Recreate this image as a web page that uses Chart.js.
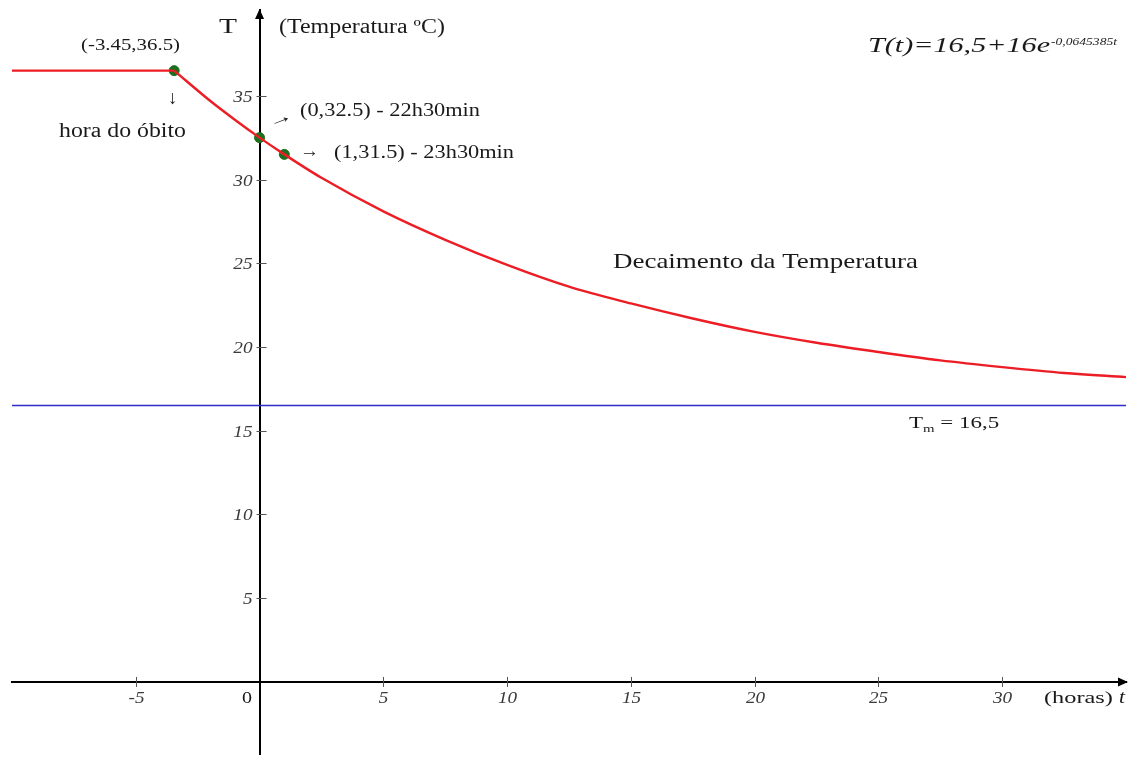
<!DOCTYPE html>
<html>
<head>
<meta charset="utf-8">
<title>Decaimento da Temperatura</title>
<script src="https://cdn.jsdelivr.net/npm/chart.js@4.4.1/dist/chart.umd.min.js"></script>
<style>
  html, body { margin: 0; padding: 0; background: #fff; }
  #wrap { width: 1132px; height: 760px; }
</style>
</head>
<body>
<div id="wrap"><canvas id="chart" width="1132" height="760"></canvas></div>
<script>
// --- data ---
var flatTimes = [-10, -3.45];          // horas
var flatTemps = [36.5, 36.5];          // before death
var curveTimes = [-3.45, -2, -1, 0, 1, 2.5, 5, 7.5, 10, 12.5, 15, 17.5, 20, 22.5, 25, 27.5, 30, 32.5, 35];
var curveTemps = [36.5, 34.7, 33.57, 32.5, 31.5, 30.1, 28.1, 26.4, 24.9, 23.6, 22.6, 21.7, 20.9, 20.25, 19.7, 19.2, 18.8, 18.45, 18.2];
var ambientTimes = [-10, 35];
var ambientTemps = [16.5, 16.5];
var markTimes = [-3.45, 0, 1];
var markTemps = [36.5, 32.5, 31.5];
var xTickLabels = [-5, 5, 10, 15, 20, 25, 30];
var yTickLabels = [5, 10, 15, 20, 25, 30, 35];

function pts(xs, ys) {
    return xs.map(function (x, i) { return { x: x, y: ys[i] }; });
}

var serif = '"Liberation Serif", "Times New Roman", serif';

// the source picture has its lettering stretched sideways, so text is drawn with a x-scale
function drawText(ctx, s, x, y, size, opts) {
    opts = opts || {};
    ctx.save();
    ctx.font = (opts.style || '') + ' ' + size + 'px ' + serif;
    var w = ctx.measureText(s).width;
    var sx = opts.width ? opts.width / w : (opts.stretch || 1.2);
    ctx.translate(x, y);
    if (opts.rotate) ctx.rotate(opts.rotate);
    ctx.scale(sx, 1);
    ctx.textAlign = opts.align || 'left';
    ctx.textBaseline = opts.baseline || 'alphabetic';
    ctx.fillStyle = opts.color || '#1a1a1a';
    ctx.fillText(s, 0, 0);
    ctx.restore();
    return w * sx;
}

// tick marks, tick labels and arrow heads, all placed through the chart scales
var axesPlugin = {
    id: 'axesDecor',
    afterDraw: function (chart) {
        var ctx = chart.ctx, xs = chart.scales.x, ys = chart.scales.y, area = chart.chartArea;
        var x0 = xs.getPixelForValue(0), y0 = ys.getPixelForValue(0);
        ctx.save();
        ctx.strokeStyle = '#555';
        ctx.lineWidth = 1;
        xs.ticks.forEach(function (t) {
            if (xTickLabels.indexOf(t.value) < 0) return;
            var px = Math.round(xs.getPixelForValue(t.value)) + 0.5;
            ctx.beginPath();
            ctx.moveTo(px, y0 - 5);
            ctx.lineTo(px, y0 + 5);
            ctx.stroke();
            drawText(ctx, String(t.value), px, y0 + 21, 16, { style: 'italic', align: 'center', color: '#3a3a3a' });
        });
        ys.ticks.forEach(function (t) {
            if (yTickLabels.indexOf(t.value) < 0) return;
            var py = Math.round(ys.getPixelForValue(t.value)) + 0.5;
            ctx.beginPath();
            ctx.moveTo(x0 - 3, py);
            ctx.lineTo(x0 + 7, py);
            ctx.stroke();
            drawText(ctx, String(t.value), x0 - 7, py + 1, 16, { style: 'italic', align: 'right', baseline: 'middle', color: '#3a3a3a' });
        });

        ctx.fillStyle = '#000';
        ctx.beginPath();
        ctx.moveTo(area.right + 2, y0);
        ctx.lineTo(area.right - 8, y0 - 4.5);
        ctx.lineTo(area.right - 8, y0 + 4.5);
        ctx.fill();
        ctx.beginPath();
        ctx.moveTo(x0, area.top - 1);
        ctx.lineTo(x0 - 4.5, area.top + 9);
        ctx.lineTo(x0 + 4.5, area.top + 9);
        ctx.fill();
        ctx.restore();
    }
};

// text notes of the figure
var notesPlugin = {
    id: 'notes',
    afterDraw: function (chart) {
        var ctx = chart.ctx;
        drawText(ctx, 'T', 219, 33, 20, { width: 18 });
        drawText(ctx, '(Temperatura ºC)', 279, 33, 20, { width: 166 });
        drawText(ctx, '(-3.45,36.5)', 81, 50, 17, { width: 99 });
        drawText(ctx, '↓', 168, 104, 19, { stretch: 1 });
        drawText(ctx, 'hora do óbito', 59, 137, 20, { width: 127 });

        drawText(ctx, '→', 271, 128, 18, { width: 24, rotate: -0.36 });
        drawText(ctx, '(0,32.5) - 22h30min', 300, 116, 19, { width: 180 });
        drawText(ctx, '→', 300, 157, 19, { width: 19 });
        drawText(ctx, '(1,31.5) - 23h30min', 334, 158, 19, { width: 180 });

        drawText(ctx, 'Decaimento da Temperatura', 613, 268, 21, { width: 305 });

        var x = 909;
        x += drawText(ctx, 'T', x, 428, 17, { stretch: 1.35 });
        x += drawText(ctx, 'm', x, 432, 11, { stretch: 1.35 });
        drawText(ctx, ' = 16,5', x, 428, 17, { stretch: 1.35 });

        drawText(ctx, 'T(t)=16,5+16e', 868, 52, 22, { style: 'italic', width: 182 });
        drawText(ctx, '-0,0645385t', 1051, 45, 10, { style: 'italic', width: 66 });

        drawText(ctx, '0', 242, 703, 16, { width: 10 });
        x = 1044;
        x += drawText(ctx, '(horas) ', x, 703, 17, { width: 75 });
        drawText(ctx, 't', x, 703, 18, { style: 'italic' });
    }
};

new Chart(document.getElementById('chart').getContext('2d'), {
    type: 'scatter',
    data: {
        datasets: [{
            data: pts(ambientTimes, ambientTemps),
            showLine: true,
            borderColor: '#2d2dc8',
            borderWidth: 1.5,
            pointRadius: 0
        }, {
            data: pts(flatTimes, flatTemps),
            showLine: true,
            borderColor: '#ec1d24',
            borderWidth: 2.4,
            pointRadius: 0
        }, {
            data: pts(curveTimes, curveTemps),
            showLine: true,
            borderColor: '#ec1d24',
            borderWidth: 2.4,
            cubicInterpolationMode: 'monotone',
            pointRadius: 0
        }, {
            data: pts(markTimes, markTemps),
            showLine: false,
            backgroundColor: '#1f6e1f',
            borderColor: '#1f6e1f',
            pointRadius: 5
        }]
    },
    options: {
        responsive: false,
        animation: false,
        layout: { padding: { left: 12, right: 2, top: 10, bottom: 0 } },
        plugins: { legend: { display: false }, tooltip: { enabled: false } },
        scales: {
            x: {
                type: 'linear',
                min: -10,
                max: 35,
                position: { y: 0 },
                border: { display: true, color: '#000', width: 2 },
                grid: { display: false },
                ticks: { display: false, stepSize: 5 }
            },
            y: {
                type: 'linear',
                min: -4.3,
                max: 40.12,
                position: { x: 0 },
                border: { display: true, color: '#000', width: 2 },
                grid: { display: false },
                ticks: { display: false, stepSize: 5, includeBounds: false }
            }
        }
    },
    plugins: [axesPlugin, notesPlugin]
});
</script>
</body>
</html>
